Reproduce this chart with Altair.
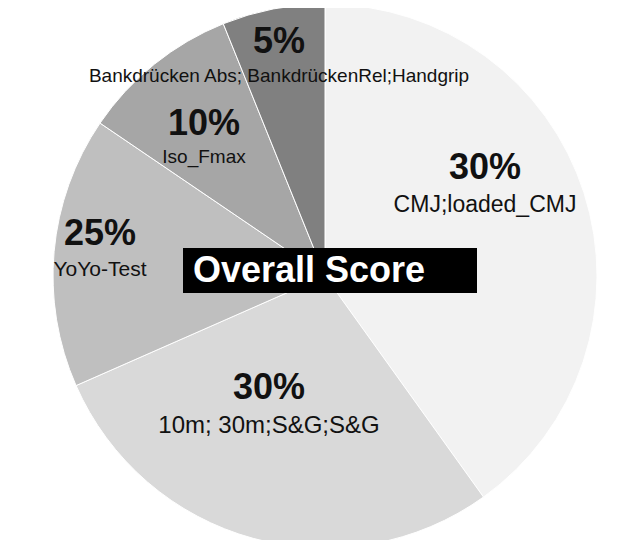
import altair as alt
import pandas as pd

# ---- data ----
categories = [
    "CMJ;loaded_CMJ",
    "10m; 30m;S&G;S&G",
    "YoYo-Test",
    "Iso_Fmax",
    "Bankdrücken Abs; BankdrückenRel;Handgrip",
]
weight_labels = ["30%", "30%", "25%", "10%", "5%"]
# slice sizes as drawn in the picture (share of the full circle, %)
slice_share = [40.1, 28.3, 16.1, 9.4, 6.1]
center_title = "Overall Score"

df = pd.DataFrame({
    "category": categories,
    "pct": weight_labels,
    "share": slice_share,
    "order": list(range(len(categories))),
})

# ---- styling ----
colors = ["#f2f2f2", "#d9d9d9", "#bfbfbf", "#a6a6a6", "#808080"]
FONT = "Liberation Sans"
OFF = 8  # page margin
CX, CY, R = 325 - OFF, 276 - OFF, 272

# (pct x, pct y, label x, label y, label font size) in page pixels
label_style = {
    "CMJ;loaded_CMJ": (485, 168, 485, 205, 23),
    "10m; 30m;S&G;S&G": (269, 388, 269, 426, 24),
    "YoYo-Test": (100, 234, 100, 270, 21),
    "Iso_Fmax": (204, 124, 204, 157, 19),
    "Bankdrücken Abs; BankdrückenRel;Handgrip": (279, 42, 279, 76, 19),
}

pie = alt.Chart(df).mark_arc(outerRadius=R, stroke="white", strokeWidth=1).encode(
    theta=alt.Theta("share:Q", stack=True),
    color=alt.Color("category:N", scale=alt.Scale(domain=categories, range=colors), legend=None),
    order=alt.Order("order:Q"),
    x=alt.value(CX),
    y=alt.value(CY),
)

layers = [pie]
for cat in categories:
    px, py, lx, ly, fs = label_style[cat]
    base = alt.Chart(df).transform_filter(alt.datum.category == cat)
    layers.append(
        base.mark_text(font=FONT, fontWeight="bold", fontSize=36, color="#111111",
                       align="center", baseline="middle").encode(
            text="pct:N", x=alt.value(px - OFF), y=alt.value(py - OFF))
    )
    layers.append(
        base.mark_text(font=FONT, fontSize=fs, color="#111111",
                       align="center", baseline="middle").encode(
            text="category:N", x=alt.value(lx - OFF), y=alt.value(ly - OFF))
    )

title_df = pd.DataFrame({"t": [center_title]})
box = alt.Chart(title_df).mark_rect(color="black").encode(
    x=alt.value(183 - OFF), x2=alt.value(477 - OFF),
    y=alt.value(248 - OFF), y2=alt.value(293 - OFF),
)
title_text = alt.Chart(title_df).mark_text(
    font=FONT, fontWeight="bold", fontSize=36, color="white",
    align="left", baseline="middle").encode(
    text="t:N", x=alt.value(193 - OFF), y=alt.value(271 - OFF))

layers += [box, title_text]

chart = alt.layer(*layers).properties(
    width=610, height=532, padding=0, autosize="none", background="white"
).configure_view(stroke=None)

chart.save("out.html", embed_options={"renderer": "svg", "actions": False})
